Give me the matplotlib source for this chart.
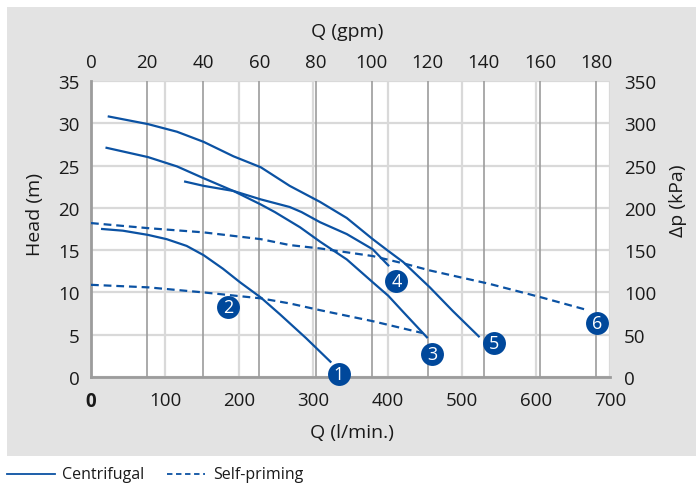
import matplotlib
matplotlib.use('Agg')
import matplotlib.pyplot as plt
from matplotlib.lines import Line2D

plt.rcParams['font.family'] = ['Open Sans', 'DejaVu Sans']

LPM_PER_GPM = 3.785

# curves: flow (l/min) and head (m)
q1 = [15, 43, 77, 102, 129, 152, 178, 201, 229, 255, 290, 323]
h1 = [17.5, 17.3, 16.8, 16.3, 15.5, 14.4, 12.8, 11.2, 9.4, 7.4, 4.6, 1.8]
q2 = [0, 77, 152, 229, 268, 309, 380, 447]
h2 = [10.9, 10.6, 10.0, 9.3, 8.7, 7.9, 6.6, 5.2]
q3 = [21, 77, 116, 152, 192, 229, 248, 282, 309, 345, 380, 401, 421, 453]
h3 = [27.1, 26.0, 24.9, 23.5, 22.0, 20.4, 19.5, 17.7, 16.0, 13.9, 11.2, 9.6, 7.7, 4.7]
q4 = [127, 152, 192, 229, 268, 284, 309, 345, 380, 401]
h4 = [23.1, 22.6, 22.0, 21.0, 20.1, 19.5, 18.3, 16.9, 15.1, 13.2]
q5 = [24, 77, 116, 152, 192, 229, 268, 309, 345, 380, 401, 421, 457, 488, 523]
h5 = [30.8, 29.9, 29.0, 27.8, 26.1, 24.8, 22.6, 20.7, 18.8, 16.3, 14.9, 13.6, 10.6, 7.8, 4.8]
q6 = [0, 77, 152, 229, 268, 309, 380, 423, 457, 538, 608, 670]
h6 = [18.2, 17.6, 17.1, 16.3, 15.6, 15.2, 14.3, 13.4, 12.6, 11.0, 9.4, 7.9]

curves = [(q1, h1, '-'), (q2, h2, '--'), (q3, h3, '-'),
          (q4, h4, '-'), (q5, h5, '-'), (q6, h6, '--')]

badge_labels = ['1', '2', '3', '4', '5', '6']
badge_q = [334, 185, 460, 412, 543, 682]
badge_h = [0.35, 8.3, 2.7, 11.3, 4.0, 6.4]

lpm_ticks = [0, 100, 200, 300, 400, 500, 600, 700]
gpm_ticks = [0, 20, 40, 60, 80, 100, 120, 140, 160, 180]
head_ticks = [0, 5, 10, 15, 20, 25, 30, 35]
kpa_ticks = [0, 50, 100, 150, 200, 250, 300, 350]

line_c = '#0b52a3'
badge_c = '#00489b'
text_c = '#1a1a1a'
tick_fs = 13.5
label_fs = 14

fig = plt.figure(figsize=(6.96, 4.85), dpi=100)

# grey panel behind the chart
bg = fig.add_axes([7 / 696, 28 / 485, 1, 449 / 485], zorder=-5)
bg.set_facecolor('#e3e3e3')
bg.set_xticks([])
bg.set_yticks([])
for s in bg.spines.values():
    s.set_visible(False)

ax = fig.add_axes([91 / 696, 1 - 378 / 485, 519 / 696, 296 / 485])
ax.set_facecolor('white')
ax.set_xlim(0, 700)
ax.set_ylim(0, 35)

for y in head_ticks:
    ax.axhline(y, color='#d9d9d9', lw=1.6, zorder=1)
for x in lpm_ticks[1:]:
    ax.axvline(x, color='#d9d9d9', lw=1.6, zorder=1)
for g in gpm_ticks[1:]:
    ax.axvline(g * LPM_PER_GPM, color='#9c9c9c', lw=1.2, zorder=1.5)

for q, h, ls in curves:
    if ls == '--':
        ax.plot(q, h, color=line_c, lw=1.6, ls=(0, (3.5, 2.2)), zorder=3)
    else:
        ax.plot(q, h, color=line_c, lw=1.6, zorder=3)

for lab, q, h in zip(badge_labels, badge_q, badge_h):
    ax.plot(q, h, 'o', ms=16.5, color=badge_c, mec='none', zorder=4, clip_on=False)
    ax.text(q, h, lab, color='white', fontsize=13, ha='center', va='center',
            zorder=5, clip_on=False)

for s in ['top', 'right']:
    ax.spines[s].set_visible(False)
for s in ['left', 'bottom']:
    ax.spines[s].set_color('#9c9c9c')
    ax.spines[s].set_linewidth(2)
    ax.spines[s].set_zorder(2)

ax.set_xticks(lpm_ticks)
ax.set_yticks(head_ticks)
ax.tick_params(axis='x', length=0, pad=10, labelsize=tick_fs, labelcolor=text_c)
ax.tick_params(axis='y', length=0, pad=8, labelsize=tick_fs, labelcolor=text_c)
ax.get_xticklabels()[0].set_fontweight('bold')

top = ax.secondary_xaxis('top', functions=(lambda x: x / LPM_PER_GPM,
                                           lambda g: g * LPM_PER_GPM))
top.set_xticks(gpm_ticks)
top.tick_params(length=0, pad=7, labelsize=tick_fs, labelcolor=text_c)
top.spines['top'].set_visible(False)

right = ax.twinx()
right.set_ylim(0, 350)
right.set_yticks(kpa_ticks)
right.tick_params(length=0, pad=10, labelsize=tick_fs, labelcolor=text_c)
for s in right.spines.values():
    s.set_visible(False)

fig.text(347 / 696, 1 - 32 / 485, 'Q (gpm)', fontsize=label_fs, color=text_c,
         ha='center', va='center')
fig.text(352 / 696, 1 - 433 / 485, 'Q (l/min.)', fontsize=label_fs, color=text_c,
         ha='center', va='center')
fig.text(35 / 696, 1 - 215 / 485, 'Head (m)', fontsize=label_fs, color=text_c,
         ha='center', va='center', rotation=90)
fig.text(678 / 696, 1 - 201 / 485, '\u0394p (kPa)', fontsize=label_fs, color=text_c,
         ha='center', va='center', rotation=90)

# legend under the grey box
ly = 1 - 475 / 485
fig.lines.append(Line2D([7 / 696, 55 / 696], [ly, ly], transform=fig.transFigure,
                        color=line_c, lw=1.3))
fig.text(62 / 696, ly, 'Centrifugal', fontsize=11.5, color=text_c, va='center')
fig.lines.append(Line2D([167 / 696, 205 / 696], [ly, ly], transform=fig.transFigure,
                        color=line_c, lw=1.3, ls=(0, (3, 2))))
fig.text(213 / 696, ly, 'Self-priming', fontsize=11.5, color=text_c, va='center')

fig.savefig('out.png', dpi=100)
